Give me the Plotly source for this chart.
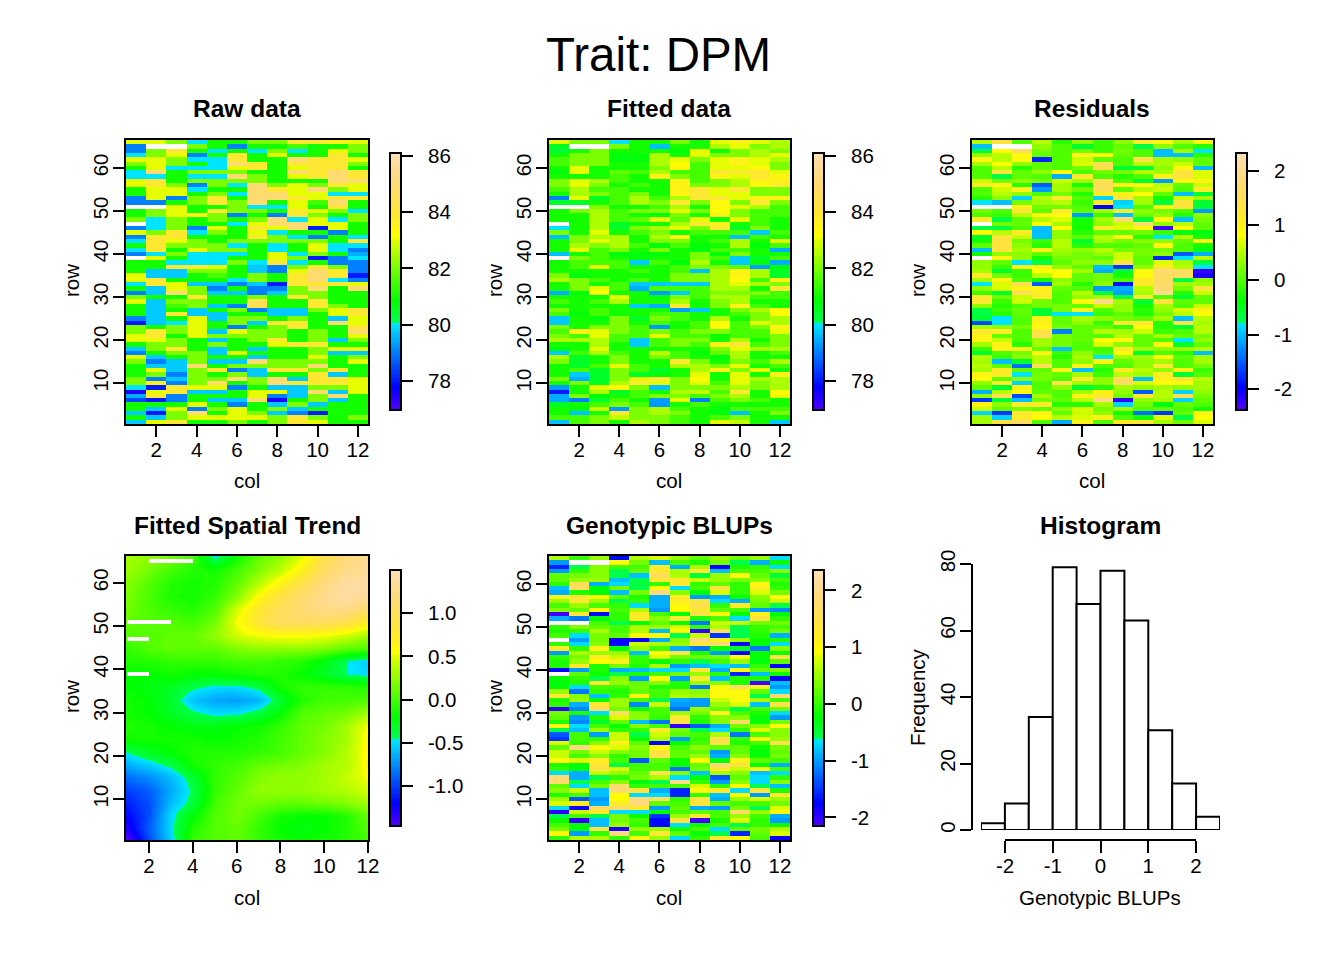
import colorsys
import plotly.graph_objects as go

N = None
W, H = 1344, 960

# All matrices: first line = top row (row 66), last line = bottom row (row 1); 12 columns
raw_data = [
[83,83,82,80,81,81,82,82,84,84,83.5,83],
[79,N,N,82,81,79,81,81,81.5,81,81,82],
[79,82,84,81,80,81,80,82,80,81,83,82],
[80,82,83,79,81,84,81,83,81,81,84,81],
[83,83,82,80,80,84,81,81,85,84,84,83],
[82,83,82,81,80,85,84,81,84,84,84,82],
[81,83,80,80,80,83,84,81,83,84,84,81],
[80,85,81,82,82,82,81,81,85,84,85,84],
[80,80,81,80,80,85,82,81,83,84,85,84],
[83,84,81,82,82,82,82,81,81,81,85,85],
[83,84,82,79,82,80,85,82,83,82,84,83],
[81,83,83,80,81,81,85,84,83,85,82,83],
[81,83,83,81,82,80,85,85,83,83,80,80],
[79,83,79,82,84,81,85,85,84,83,84,84],
[79,79,81,82,84,82,85,81,83,81.5,85,81],
[N,N,83,81,81,82,80,80,83,81,84,81],
[81,82,83,81,84,82,82,81,84,83,82,80],
[81,82,83,83.5,82,79,81,79,84,82,81,82],
[82,80,82,81,82,81,82,85,80,83,80,82],
[N,80,82,81,81,80,83,85,85,83,83,81],
[79,80,82,79,83,81,84,83,85,78,83,81],
[83,82,84,80,82,81,83,80,81,81,79,81],
[79,84,84,81,81,81,84,82,80,79,81,80],
[80,84,83,82,81,82,82,82,82,82,81,84],
[81,84,82,82,82,80,81,80,81,83,80,80],
[80,84,81,83,82,82,81,80,81,83,80,79],
[79,80,82,80,80,80,81,83,80,82,81,79.5],
[N,83,81,80,80,81,81,83,82,78,79,80],
[81,81,80,80,80,82,80,84,80,81,79,79],
[81,81,84,84,83,81,79.8,79,82,84,82,79],
[81,79.8,79.8,82,82,81,79.8,79,83,85,84,79],
[83,79.8,79.8,81,81.5,81,82,81,84,85,84,78],
[83,84,81,81,81,80,82,81,84,85,80,79],
[80,84,83,79.8,79.8,79,79.8,78,84,84,84,83],
[81,79.8,83,82,79,81,79,79,82,85,81,85],
[79,79.8,85,82,79.8,79.8,79,79.8,82,82,81,81],
[82,81,81,84,81,81,82,81,84,82,81,81],
[83,79.8,82,82,81,81,84.5,81,81,84,81,81],
[81,79.8,81.5,82,79.8,79,84.5,81,81,84,82,81],
[81,79.8,81,79.8,81,82,79,79.8,79.8,82,83,84],
[81,79.8,84,79.8,79.8,81,81,79.8,79.8,81,83,84],
[79,79.8,81,83,79.8,82,82,81,82,81,79.8,83],
[78,79.8,80,83,81,82,79.8,84,84,81,85,83],
[82,81,82,83,81,79,81,82,84,81,81,84],
[82,84,82,83,79.8,83,82,82,81,82,81,85],
[83,84,81,83,82,82,82,82,81,82,81,83],
[83,83,82,81,79.8,81,82,84,81,82,79.8,82],
[81,82,82,81,82,81,81,83,84,84,81,81],
[79.8,82,84,81,79.8,81,79.8,81,81,82,83,83],
[79,81,82,82,79.8,83,81,81,81,82,79.8,79.8],
[83,79.8,81,82,81,81,79.8,81,81,83,81,82],
[82,79,79.8,82,79.8,79.8,85,82,82,82,81,83],
[81,79.8,79.8,85,81,82,82,82,82,85,81,81],
[81,83,79.8,82,84,79,79.8,84,84,82,84,81],
[81,82,79,82,81,82,79.8,81,81,84,79.8,81],
[82,79,79.8,82,82,85,82,85,79.8,84,84,83],
[82,83.5,79,82,85,81,82,85,84,84,84,83],
[80,78,84,83,83,79,81,79.8,79.8,82,82,83],
[77.5,83,84,79.8,79.8,81,83,83,79.8,85,79.8,83],
[79.5,84,79,81,81,81,83,79,79.8,82,85,81],
[78.5,78,79,81,79.8,79.8,85,77.5,81,82,79.8,81],
[81,81,81,83,81,79,81,79.8,82,79.8,81,81],
[81,79.8,83,79,82,83,81,82,79.8,81,81,81],
[79.8,78,82,85,81,83,82,79.8,79,78,81,81],
[81,79.8,82,83,83,83,83,82,84,82,81,82],
[79.8,83,84,81,81,82,81,82,84,83,81,81],
]

fitted_data = [
[83,82,82,80,81,81,82,81,83,83.5,83,82.5],
[80.5,N,N,82,81,79.7,81,81,82.5,83,82,82.5],
[80.3,81,82,81,81,81,80.8,83,81,82,82.5,82],
[81,82,82,80.8,80.8,82.5,81,83,82,82,82.5,83],
[81.5,82,82,80.8,80.8,82.5,83,82,83,83.5,83,82.5],
[81.5,82,82,81,81,82.5,83.2,81.5,83,83.5,83,82],
[81,83,81,81,81,82,83.2,81.5,83,83,83.3,82],
[80.8,83,81,81.8,81.5,82.5,81.5,81.5,84,84,84,83],
[81,81,81,81.5,81,83.5,82,81.5,83.5,83,84,83.5],
[82,83,82.5,81.5,81,81,83.5,81.5,82,82.5,83.5,83.5],
[82,83,82,81,81.5,81,83.5,82,82,82.5,83.3,84],
[81.5,82.5,81.5,81.5,81,81,83.5,84,83,84,82,82],
[81,82.5,82,81.5,82,81,83.5,84,83,83,82,82],
[79,83,80.5,81.5,82.5,81.5,82.5,84,84,83,83.5,83.5],
[80.5,80.5,81,81.5,82.5,82,84,82,83.3,82,84,82],
[N,N,82,81,81,81.5,82.5,81,83.3,83,82.5,81.5],
[81,82,82.5,81.5,82,82,83,82,83.2,82,81.5,81.5],
[81,81,82.5,81.5,81,80.8,82,81,83.5,82,81.5,81.5],
[81,81,82.5,81.5,81.8,83,81.8,83,81,83,81.5,81],
[N,81,82.5,80.5,81,81,82.5,84,83.5,81,81.5,81],
[80,81,82.5,80.5,82,82.5,83,82,84,80.5,82,81],
[82,81,83,81,81.5,82,81,81.5,81.5,81.5,79.8,81.5],
[79.7,82,82.5,82.5,81,82.5,83.5,81,81,79.7,81.5,81],
[81,82,83,82.5,81,82,82,81,81.5,82.5,81,83],
[81,82.5,82,82.5,81.5,80.8,81.5,80.8,81,82.5,80.8,81.5],
[81,83,81.5,82,81,82,81,80.8,81.5,81.5,81,79.5],
[79.7,81,81.5,80.8,80.8,80.8,81,82,80.8,82,81,81],
[N,82,81.5,81,80.8,81,81,82,81.5,79.8,80.5,81.5],
[81,81.5,81.5,81.5,79.8,81.5,80.8,82.5,81,79.8,80.8,79.5],
[81,81.5,83,81.5,81,81,81.5,82,82,81.8,79.3,80.8],
[81,81,81,81,81.5,81,81.5,79.7,82.5,83.5,82.5,80.5],
[82,80.8,81,81,81,81,82,82,82.5,83.5,82.5,80.5],
[82.5,82,81.5,81,81.5,81,82,82,82.5,83.2,81.5,83.5],
[81,82,81,81.5,79.8,79.8,79.8,79.8,82.5,83,82.5,82],
[81,82,83,81.5,79.5,81.5,81.5,81.5,82.5,82.5,81,84],
[79.5,80.8,83.2,81,81,79.3,79.8,81.5,82,82,82,81.5],
[81,81,81,83,81,80.8,82,81.5,82.5,82.5,81.5,81.5],
[81.5,81,81.5,82.5,81,81,82.5,81,82,82.5,81,81],
[81,81,81,81,79.8,79.5,84,81,82,83.5,81.5,81],
[82,81,81.5,81,81,81,79.3,79.8,81,82,82.5,83.2],
[81.5,80.8,81.5,81,81,81.5,81.5,81,81,81.5,82,83.2],
[79.8,81,80.8,82,80.5,82,81.5,81,82.5,81,82,82.5],
[79.8,81,81,82,81,81.5,81,81.5,83.2,81.5,83,82.5],
[82,81,82,82,81.5,79.3,81,81.5,83.2,81.5,82,83.5],
[81.5,83.5,83,82,81.5,82,81.5,82,82,81.5,81.5,83],
[82,81.5,83,81.5,81.5,83,81.5,81.5,81,81.5,81.5,82],
[82.5,82.5,82.5,81.5,79.8,81.5,82,82,81,82.5,81,82],
[81,81,82.5,81,79.8,81.5,82,81.5,83.5,84,81.5,82],
[80.8,81,83,81,81,81,81,81,82,83,82.5,82.5],
[79.8,81.5,82.5,81.5,81,82.7,81.5,80.8,81.8,82.5,81,81.5],
[82.5,80.5,81,82,81,82,81.5,81,80.8,82.5,81,81],
[82,80.5,81,82,81,81,84,82,81,82,81.5,82.5],
[81,80.5,81.5,83,81.5,81,82.5,82.5,82,83,81,81.5],
[81,81.5,80.5,82,81.5,80.5,81,82.5,83.5,82,83,81],
[81,79.8,80.5,82,80.5,80.8,81,83,81,83,81,83.5],
[82,79.5,80.5,82,83,84,82,83.2,81,83,82.5,82.5],
[81,82,80.5,82.5,84,83,82,83,81.5,83,82,82.5],
[79.3,81,83,83.3,82,79.7,82,82,82,82.5,82,82.5],
[78,81,82.5,80.5,81.5,81,82.5,82.7,81.5,84,81,83.3],
[79.5,82,80.8,81,81.5,82,82,81.5,82,82.5,81,83],
[79.5,79,80.5,81.5,81,79.3,83,79,81.5,82,81.5,81],
[80.5,81,81.5,82,81.5,79.3,81,81.5,81,81,81,81],
[81,80.8,82.8,79.3,82,82.5,81.5,81,80.8,81.5,81.5,81.5],
[81,79.7,81,84,82,82.5,82,81,80.8,79.7,81,82],
[81.5,81.5,82,82.7,82,82,81.5,81,81.5,82,81,81],
[79.7,81.5,82,81,82.5,82,81.5,81,83,82.7,81,79.8],
]

residual_data = [
[.5,1.3,0,.5,-.2,.3,-.1,.3,1.1,.9,.4,.9],
[-1,N,N,.3,0,-.6,-.1,.1,-.7,.3,0,-.2],
[-.7,.8,1.6,.2,0,.2,-.1,.2,0,-1,.4,-.8],
[.3,.5,.9,.1,0,1,.8,.1,0,-1,-1,-.2],
[1,.5,.9,-1.8,0,.6,.1,0,1.4,.4,.3,.1],
[.4,.8,.3,.1,0,.7,1.5,0,.5,.4,.6,.1],
[0,.5,-.2,.1,0,.2,1.4,-.6,-.6,.3,.9,-1],
[0,1.3,.1,.3,.9,0,.2,.2,.5,.4,1.3,.7],
[0,-.7,.1,0,-1.1,1.2,0,-.2,0,1,1.3,.7],
[.6,.2,.3,.2,.6,.4,1.5,0,-.6,-1.2,.9,1],
[1.1,1,-.2,-1.5,.4,-.3,1.5,1,.9,.5,.1,.6],
[0,.6,1,-1.2,.4,.2,1.5,.1,.5,.6,0,1.1],
[0,.5,.3,0,.2,-.2,1.1,1,.8,.1,-1,-.6],
[-.2,.3,-.9,.5,1.2,0,-.9,1.2,.4,-.3,.6,.4],
[-.8,-1,.2,.4,.5,-.1,1.1,-.9,.4,-.7,1.3,-.6],
[N,N,1,.2,.2,0,-2,-.8,0,.9,1.3,-.6],
[.2,0,1.3,.1,1.2,.1,.4,1.1,.3,.2,0,-1.2],
[0,-.1,.5,.9,.9,-1.2,-.1,-1,.2,.3,-.2,.3],
[1.1,-.7,.1,.5,.7,-.3,.4,1.7,-.6,.9,-1,.2],
[N,.2,.1,.8,.4,-.3,.3,.6,1.7,.3,.5,.1],
[-.7,-.7,0,-1,.8,-.3,1.1,.7,.9,-2.3,.9,.1],
[.8,.5,1.1,-1,.3,-.2,.1,.1,.2,-.1,-.5,-.5],
[-.6,1.3,.6,-1,.3,.1,.5,.9,-.2,-.8,.5,-.3],
[-.3,1.3,.2,-.1,.5,-.6,.4,.2,.3,.3,.1,1],
[.1,1.3,.3,-.2,.5,-.2,0,0,.1,.9,0,-.3],
[-1,1.3,.4,1,.4,.3,.5,.2,.2,.2,0,-.5],
[-.3,.3,.3,.1,.3,.2,.3,.6,.2,.3,-1.5,-1.1],
[N,1,.3,-.3,.2,.2,.1,.6,.1,-1.8,-.8,.5],
[.3,.1,-.8,-.7,.1,.3,.3,1.3,.1,.7,.4,-.7],
[.3,-.1,1,1,.3,.1,-1,-1.7,.3,1.1,.5,-.8],
[.4,-.6,-.1,.8,.9,.4,-1.1,-.6,.9,1.8,1.6,-2.2],
[1.1,.2,-.1,.5,.8,.1,.2,-.3,.9,1.6,1.6,-2.1],
[.4,1,0,-.3,.3,.1,.2,0,1.1,1.6,-.7,.3],
[-.8,.7,1.5,-1.5,.4,-.2,.3,-1.9,1.1,1.7,.4,.4],
[.3,.7,1,1,.1,0,-1.2,-1.1,.5,1.7,.2,1.3],
[-.1,-.6,1.5,1.1,0,.5,-.7,-1.2,.4,2,-.2,.6],
[1.2,.2,.6,1.1,0,.3,.4,-.7,1.2,0,-.6,.1],
[1.2,-.1,.6,.2,0,.9,1.9,.4,-.6,1.3,.1,.1],
[.3,-.2,0,.2,.2,.1,.6,.3,-.3,.4,0,.6],
[-.7,-.1,.1,-.6,.2,1,0,.3,-.2,.3,.7,1],
[-.7,-.2,.1,-.6,-.8,-.8,-.1,.1,-.2,.2,.5,.8],
[-.6,-.8,0,1,.1,.4,.3,.2,.1,.4,-1,.5],
[-1.6,-.8,0,1,.1,.3,-.1,1.2,1.2,-.2,1.4,.4],
[.4,.3,.2,.9,.2,.1,.1,-.1,.9,-.2,-.6,.5],
[1.2,1.1,0,1.3,-1.3,.1,.5,.4,.6,-.1,0,.5],
[1,.1,0,1.5,.2,.1,0,.5,.1,.4,.1,.2],
[1,.6,0,.4,.2,.1,.8,.9,.1,0,-.8,.3],
[.4,1,-.2,.4,.2,0,.7,.3,.1,.9,-.6,.1],
[-.1,1,1,.1,-1,0,-.1,1.1,.4,.3,.4,.5],
[-.6,0,.2,1,-.1,.3,0,.9,-.6,0,-.2,-1],
[.5,-.1,.3,.5,-.2,.4,-.8,.4,.4,.9,.1,.4],
[.4,-1,-.6,.5,0,.3,1,.1,.3,.4,0,.4],
[.5,.1,-1.4,1.5,0,1,0,0,.3,1.2,0,.2],
[.4,1.1,.1,.1,1,-1,-.2,1.1,.5,.3,1,-.1],
[1,1.1,-.8,.2,.1,.4,-.1,.5,.4,1.1,-.6,0],
[.8,.1,.3,.2,0,1.2,.3,1.6,-1,1,1.2,.5],
[.3,1.1,-.9,0,1.4,.4,.3,1.6,.7,.9,.9,.4],
[.1,-.6,1,0,.3,-.6,-.2,.4,.3,.4,.3,.4],
[-1.1,.5,.9,.1,0,.4,1,.3,-1.5,.5,-.9,.3],
[.3,1.5,-1.6,.4,0,1,1.1,.2,1.2,.5,1.5,.2],
[-1.7,-.6,-1,.2,.1,.5,1.9,-2.2,.3,.4,-.9,.1],
[1,.3,1.1,1.1,-.2,-.2,.4,-.9,.2,-.5,.1,0],
[.6,.1,.2,.1,.3,.7,.2,.4,0,.1,0,-.3],
[-.9,-1.7,1.2,1,.1,.6,.3,-.3,-1.4,-1.7,.1,1],
[.4,-.9,1.1,.8,.5,.7,1,0,-.3,.7,-.7,.8],
[.4,1.3,1.6,0,-1.1,1,0,1.1,1.2,.4,.2,.7],
]

blup_data = [
[.6,0,.5,-1.7,.6,.8,.5,.2,.5,.3,.5,-.7],
[-1,N,N,.9,.3,-.8,.1,-.1,.3,-.6,-.9,-.2],
[-1.6,-.6,.4,.1,.1,1.2,-.9,.6,-1.8,-.1,0,-.7],
[-1,0,.4,-.6,.2,1.3,.6,1.3,-.8,.1,.1,.4],
[.2,.3,.4,-.6,-.8,1.6,.6,-.5,.5,1,.2,-.5],
[.2,.5,.5,-.8,-.6,1.3,1.3,.7,.5,.3,.4,.1],
[0,1.6,-.9,-.7,-.5,0,1.3,0,.2,0,1,-.1],
[-.8,1.6,-.3,.3,-.6,.9,-.7,.1,1.4,0,1.2,0],
[-.9,-.1,-.3,-.8,.3,1.9,.4,-.3,.8,0,.8,.3],
[1.1,1.3,.9,.2,-.1,-.9,1.2,-1,-.9,-.2,.4,1],
[.5,1.3,.5,-.6,0,-.9,1.2,1.4,-.7,-.9,.3,.7],
[.1,.5,.1,0,-.7,-.9,1,1.5,0,1.2,.2,-.6],
[.4,.2,1,.1,.6,-1,.9,1.3,.2,.1,-1,-1.1],
[-2.1,1.3,-1.7,0,1.2,.1,-.3,1.5,1,-.3,1.1,-.3],
[-.9,-1.2,-.3,0,1.2,.4,1.3,-.1,.1,-.7,1.4,0],
[N,N,.1,-.6,-.3,.2,-.3,-1.2,.7,.7,.3,.3],
[0,.4,.2,.1,.6,.5,.8,0,.6,-.6,0,.1],
[-.1,0,.6,.1,.6,-.8,.9,-2,1.6,-.6,0,.3],
[.1,-.7,.3,.2,1,1,-.6,.7,-1.5,-.6,-.1,-.9],
[N,-1,.3,-1.8,-1.8,-.9,.4,1.9,1.1,.5,-.2,-.1],
[0,-.7,.4,-1.7,.7,.6,.5,1.3,1.8,-1.7,-.3,-.7],
[1.2,0,1.1,-.3,.5,.1,-.9,-1.2,-.2,-.4,-1.2,.4],
[-1,.6,.5,.5,-.8,1,1.5,-.1,-1,-1.7,-.2,-.2],
[0,.3,1.2,.7,0,.8,.3,.3,.3,1,-.3,1.5],
[-.1,.5,.9,1.1,0,-.3,0,-.6,.1,.5,-.3,.2],
[-.1,1.3,-.1,.3,-.1,.6,-1,-.8,-.7,-.8,0,-1.7],
[-1.7,-1,-.1,-.9,-.8,-.7,-.7,1.3,-.9,1,.2,.4],
[N,.2,-.2,-.6,-.1,.1,.3,.5,0,-1.6,-.8,-.2],
[-.2,0,-.6,.4,-1,.9,-1,1.3,-.8,-.1,-.1,-1.8],
[-.3,-.1,1.3,.5,.2,.4,-.1,.5,.4,-.1,-2.1,-.8],
[-.3,-.7,.1,.1,.3,-.1,-.1,-1.2,1,1.7,1.1,-1],
[.5,-1.2,0,-.1,.2,.1,.5,.4,1,1,.2,-.7],
[1.3,.4,-.8,0,1,.1,.6,.5,1,1,-.6,1.8],
[-.1,.5,-.2,.5,.1,-.6,-.9,-1,.7,1,.6,.1],
[0,-.9,1.3,.5,-1.1,.7,-1,-1,.5,.8,-.8,1.5],
[-2,-1.1,1.6,.3,-.2,.1,-1.2,.5,.2,-.6,.1,.3],
[.3,-.1,-.7,1.7,.4,.1,.5,.3,1.1,.1,-.1,-.7],
[.2,-1,-.1,.8,.4,0,1.3,0,.4,.4,-.3,-1],
[-.1,-1.1,-.4,.2,-.8,-1.2,1.5,-.1,.4,1.7,-.2,.3],
[1,-.7,.1,-.2,.4,.1,-2,-1.3,-.9,.3,.4,1],
[-.6,-.8,.5,0,0,1.3,.3,-.6,-.7,0,.8,.4],
[-1.3,.1,-1,.7,-.6,.7,.2,.1,.6,-1.2,.1,.4],
[-1.5,.1,0,.7,-.2,.6,-1,0,1.5,0,1,.5],
[.8,0,.4,1.1,.2,-1.7,-.2,.1,1.5,-.1,.1,1.5],
[.2,1.9,1,.8,.4,1,.1,.4,.2,.2,-.2,.3],
[.7,.3,.7,.4,.3,1.4,.2,.2,-1,.2,-.3,.2],
[.7,.1,.4,0,.3,1.5,.2,.5,-.9,.4,-.2,.3],
[1,.8,1.2,.1,-1.3,.2,-.2,.9,-.3,1.1,.2,.1],
[-.1,-.3,1.3,-.6,.1,.1,-.2,.2,1.9,1.4,-.3,-.9],
[0,-.3,1.5,.8,.1,.1,-1.2,.3,1.3,.7,1,.1],
[-.7,-.9,.7,.5,.2,1.5,.4,-.8,.6,.4,-.8,-.7],
[1.8,-.9,-.6,0,.3,.6,-.7,-.3,-1.3,.2,-.7,0],
[1.8,-.6,.1,.4,-.3,-.6,2,0,-1,.4,-.7,.4],
[.2,-.7,.3,1.8,0,.1,.1,.8,0,.9,-.6,-.8],
[.4,.7,-.8,1.8,1.4,-.9,-1.6,1,1.2,-.7,1.4,-.1],
[-.1,.1,-.8,.9,-.7,-.7,-1.6,0,-.8,.9,-1,1.3],
[.5,-1.3,-1,.9,1.9,1.7,0,1.4,-.9,.5,.8,.5],
[.8,1.2,-.9,1.2,1.9,.2,.1,1.4,.2,.1,.1,.3],
[-.7,-1.8,1.7,1.7,1.2,-1,.2,-.9,-1,.3,-.6,.8],
[-2,.7,1.2,-.7,-.7,-.3,.1,.2,.1,1.7,.5,1],
[-.6,.1,-.6,.3,-.2,-1.5,.5,1.3,.1,.5,.1,-.9],
[-.2,-2,-.8,.3,.1,-1.7,1.4,-2.1,-.1,.8,0,-1],
[.1,-.2,-.8,.5,0,-1.7,-.7,-.2,.1,-.6,0,-.2],
[.3,-.3,1.5,-1.9,.5,.5,-.2,.1,-.7,.2,.3,.6],
[1,-1,0,1.9,.1,1.3,.2,-.2,-.6,-1.6,.2,.8],
[0,.6,.6,0,1,.5,-.7,0,1.2,1,.1,-1.8],
]

trend_rows = [66,63,60,57,54,51,48,45,42,39,36,33,30,27,24,21,18,15,12,9,6,3,1]
trend_data = [
[.3,.25,.15,.0,-.5,-.15,.1,.25,.5,.95,1.2,1.3],
[.28,.15,.0,-.1,-.15,.0,.2,.38,.68,1.05,1.25,1.35],
[.22,.05,-.1,-.15,-.1,.1,.35,.65,.95,1.2,1.4,1.4],
[.18,.02,-.12,-.15,-.05,.2,.6,.9,1.1,1.3,1.4,1.35],
[.15,.03,-.05,-.1,.05,.45,.8,1.0,1.15,1.25,1.25,1.1],
[.1,.05,.05,.0,.15,.55,.85,1.05,1.05,1.05,.95,.7],
[.05,.05,.1,.1,.25,.45,.55,.6,.6,.55,.45,.3],
[-.05,.05,.1,.1,.1,.2,.25,.25,.25,.2,.1,.05],
[-.1,-.1,-.05,-.05,-.05,.0,.0,-.05,-.1,-.25,-.45,-.55],
[-.2,-.2,-.15,-.2,-.2,-.15,-.1,-.1,-.2,-.3,-.45,-.5],
[-.2,-.25,-.3,-.42,-.5,-.5,-.4,-.15,-.05,-.05,-.05,-.1],
[-.15,-.2,-.35,-.58,-.68,-.7,-.62,-.35,-.1,.0,.0,.05],
[-.15,-.2,-.3,-.42,-.5,-.48,-.38,-.2,.05,.1,.15,.3],
[-.1,-.15,-.2,-.25,-.25,-.2,-.15,-.05,.1,.15,.3,.55],
[-.15,-.15,-.15,-.15,-.2,-.15,-.1,.0,.1,.2,.3,.6],
[-.45,-.3,-.2,-.1,-.1,-.1,-.05,.0,.1,.2,.35,.6],
[-.65,-.55,-.4,-.15,-.05,.0,.1,.15,.2,.3,.35,.6],
[-.85,-.75,-.6,-.35,-.05,.05,.2,.25,.25,.3,.4,.55],
[-1.0,-.9,-.65,-.42,-.05,.1,.25,.25,.25,.3,.35,.45],
[-1.1,-.95,-.6,-.38,.0,.15,.15,.1,.1,.15,.2,.3],
[-1.2,-.95,-.5,-.2,.05,.15,.0,-.15,-.2,-.2,-.1,.1],
[-1.3,-.9,-.5,-.1,.05,.1,-.05,-.2,-.25,-.2,-.1,.05],
[-1.46,-.95,-.52,-.05,.05,.1,-.05,-.15,-.2,-.15,-.1,.0],
]
missing_cells = [(65,2),(65,3),(51,1),(51,2),(47,1),(39,1)]

hist_edges = [-2.5,-2,-1.5,-1,-.5,0,.5,1,1.5,2,2.5]
hist_counts = [2,8,34,79,68,78,63,30,14,4]

rows = list(range(1, 67))
cols = list(range(1, 13))
col_ticks = [2,4,6,8,10,12]
row_ticks = [10,20,30,40,50,60]
raw_ticks = [78,80,82,84,86]
residual_ticks = [-2,-1,0,1,2]
trend_ticks = [-1.0,-0.5,0.0,0.5,1.0]
trend_tick_text = ["-1.0","-0.5","0.0","0.5","1.0"]
blup_hist_ticks = [-2,-1,0,1,2]
freq_ticks = [0,20,40,60,80]

for m in (raw_data, fitted_data, residual_data, blup_data):
    assert len(m) == 66, len(m)
    assert all(len(r) == 12 for r in m)

FONT = "Liberation Sans"
TICK = 20.5
XSTAND, YSTAND = -4, -3

def topo(n=100):
    j = n // 3
    k = n // 3
    i = n - j - k
    seq = lambda a, b, m: [a + (b - a) * t / (m - 1) for t in range(m)]
    out = []
    for h in seq(43/60, 31/60, i):
        out.append(colorsys.hsv_to_rgb(h, 1, 1))
    for h in seq(23/60, 11/60, j):
        out.append(colorsys.hsv_to_rgb(h, 1, 1))
    for h, s in zip(seq(10/60, 6/60, k), seq(1, .3, k)):
        out.append(colorsys.hsv_to_rgb(h, s, 1))
    return ["rgb(%d,%d,%d)" % tuple(round(c * 255) for c in x) for x in out]

colors = topo()
cscale = []
for idx, c in enumerate(colors):
    cscale.append([idx / len(colors), c])
    cscale.append([(idx + 1) / len(colors), c])

def px_x(a, b):
    return [a / W, b / W]
def px_y(top, bottom):
    return [1 - bottom / H, 1 - top / H]

fig = go.Figure()
layout = {}
annots = []

def text(s, x, y, size, bold=False, angle=0):
    annots.append(dict(text=("<b>%s</b>" % s) if bold else s, x=x / W, y=1 - y / H,
                       xref="paper", yref="paper", showarrow=False, textangle=angle,
                       xanchor="center", yanchor="middle",
                       font=dict(family=FONT, size=size, color="black")))

def axes(i, xd, yd, xr, yr, xticks=col_ticks, yticks=row_ticks):
    layout["xaxis%d" % i] = dict(domain=px_x(*xd), range=xr, tickvals=xticks, ticks="outside", ticklen=11,
        tickwidth=1.5, tickcolor="black", showline=True, linecolor="black", linewidth=1.5, mirror=True,
        showgrid=False, zeroline=False, anchor="y%d" % i, tickangle=0, ticklabelstandoff=XSTAND,
        tickfont=dict(family=FONT, size=TICK, color="black"))
    layout["yaxis%d" % i] = dict(domain=px_y(*yd), range=yr, tickvals=yticks, ticks="outside", ticklen=11,
        tickwidth=1.5, tickcolor="black", showline=True, linecolor="black", linewidth=1.5, mirror=True,
        showgrid=False, zeroline=False, anchor="x%d" % i, tickangle=-90, ticklabelstandoff=YSTAND,
        tickfont=dict(family=FONT, size=TICK, color="black"))

def cbar(xleft, top, bottom, vals, txt=None):
    txt = txt or [str(v) for v in vals]
    return dict(x=xleft / W, xanchor="left", xpad=0, ypad=0, y=1 - (top + bottom) / 2 / H, yanchor="middle",
                len=bottom - top, lenmode="pixels", thickness=11, thicknessmode="pixels",
                outlinewidth=2, outlinecolor="black", tickvals=vals, ticktext=["\u00a0\u00a0" + t for t in txt],
                ticks="outside", ticklen=11, tickwidth=1.5, tickcolor="black",
                tickfont=dict(family=FONT, size=TICK, color="black"))

def heat(i, z, zmin, zmax, cb, **kw):
    fig.add_trace(go.Heatmap(x=cols, y=rows, z=z[::-1], zmin=zmin, zmax=zmax, colorscale=cscale,
                             colorbar=cb, xaxis="x%d" % i, yaxis="y%d" % i, hoverongaps=False, **kw))

R1, R2 = (140, 424), (556, 840)
C1, C2, C3 = (126, 368), (549, 790), (972, 1213)
full_x, full_y = [0.5, 12.5], [0.5, 66.5]

heat(1, raw_data, 76.97, 86.1, cbar(390, 153, 410, raw_ticks))
axes(1, C1, R1, full_x, full_y)
heat(2, fitted_data, 76.97, 86.1, cbar(813, 153, 410, raw_ticks))
axes(2, C2, R1, full_x, full_y)
heat(3, residual_data, -2.38, 2.32, cbar(1236, 153, 410, residual_ticks))
axes(3, C3, R1, full_x, full_y)

fig.add_trace(go.Heatmap(x=cols, y=trend_rows, z=trend_data, zmin=-1.46, zmax=1.5, colorscale=cscale, zsmooth="best",
                         colorbar=cbar(390, 570, 826, trend_ticks, trend_tick_text), xaxis="x4", yaxis="y4"))
hole_z = [[1 if (r, c) in missing_cells else None for c in cols] for r in rows]
fig.add_trace(go.Heatmap(x=[c + .5 for c in cols], y=rows, z=hole_z, showscale=False, hoverinfo="skip",
                         colorscale=[[0, "white"], [1, "white"]], xaxis="x4", yaxis="y4"))
axes(4, C1, R2, [0.95, 12], [0.55, 66.2])

heat(5, blup_data, -2.15, 2.36, cbar(813, 570, 826, residual_ticks))
axes(5, C2, R2, full_x, full_y)

# histogram: bars on a hidden wide axis, the visible R-style axis only spans -2..2
centers = [(a + b) / 2 for a, b in zip(hist_edges[:-1], hist_edges[1:])]
widths = [b - a for a, b in zip(hist_edges[:-1], hist_edges[1:])]
fig.add_trace(go.Bar(x=centers, y=hist_counts, width=widths,
                     marker=dict(color="white", line=dict(color="black", width=2)),
                     xaxis="x7", yaxis="y6", showlegend=False))
fig.add_trace(go.Scatter(x=blup_hist_ticks, y=[0] * len(blup_hist_ticks), mode="none", hoverinfo="skip",
                         xaxis="x6", yaxis="y6", showlegend=False))
layout["xaxis7"] = dict(domain=px_x(981, 1220), range=[hist_edges[0], hist_edges[-1]], visible=False,
                        anchor="y6", showgrid=False, zeroline=False)
layout["xaxis6"] = dict(domain=px_x(1005, 1196), range=[-2, 2], tickvals=blup_hist_ticks,
    ticktext=[str(v) for v in blup_hist_ticks], ticks="outside", ticklen=12, tickwidth=1.5, tickcolor="black",
    showline=True, linecolor="black", linewidth=1.5, showgrid=False, zeroline=False, anchor="free",
    position=1 - 840 / H, ticklabelstandoff=XSTAND, tickfont=dict(family=FONT, size=TICK, color="black"))
layout["yaxis6"] = dict(domain=px_y(564, 830), range=[0, 80], tickvals=freq_ticks, ticks="outside", ticklen=11,
    tickwidth=1.5, tickcolor="black", showline=True, linecolor="black", linewidth=1.5, showgrid=False,
    zeroline=False, anchor="free", position=972 / W, tickangle=-90, ticklabelstandoff=YSTAND,
    tickfont=dict(family=FONT, size=TICK, color="black"))

text("Trait: DPM", 658, 54, 47.5)
for name, x, y in [("Raw data", 247, 109), ("Fitted data", 669, 109), ("Residuals", 1092, 109),
                   ("Fitted Spatial Trend", 247, 525), ("Genotypic BLUPs", 669, 525), ("Histogram", 1100, 525)]:
    text(name, x, y, 24.5, bold=True)
for x, y in [(247, 480), (669, 480), (1092, 480), (247, 897), (669, 897)]:
    text("col", x, y, TICK)
for x, y in [(71, 281), (494, 281), (917, 281), (71, 697), (494, 697)]:
    text("row", x, y, TICK, angle=-90)
text("Genotypic BLUPs", 1100, 897, TICK)
text("Frequency", 917, 697, TICK, angle=-90)

fig.update_layout(width=W, height=H, margin=dict(l=0, r=0, t=0, b=0, autoexpand=False), paper_bgcolor="white",
                  plot_bgcolor="white", showlegend=False, annotations=annots, **layout)
fig.write_html("out.html", post_script="document.body.style.margin='0';", config={"displayModeBar": False})
